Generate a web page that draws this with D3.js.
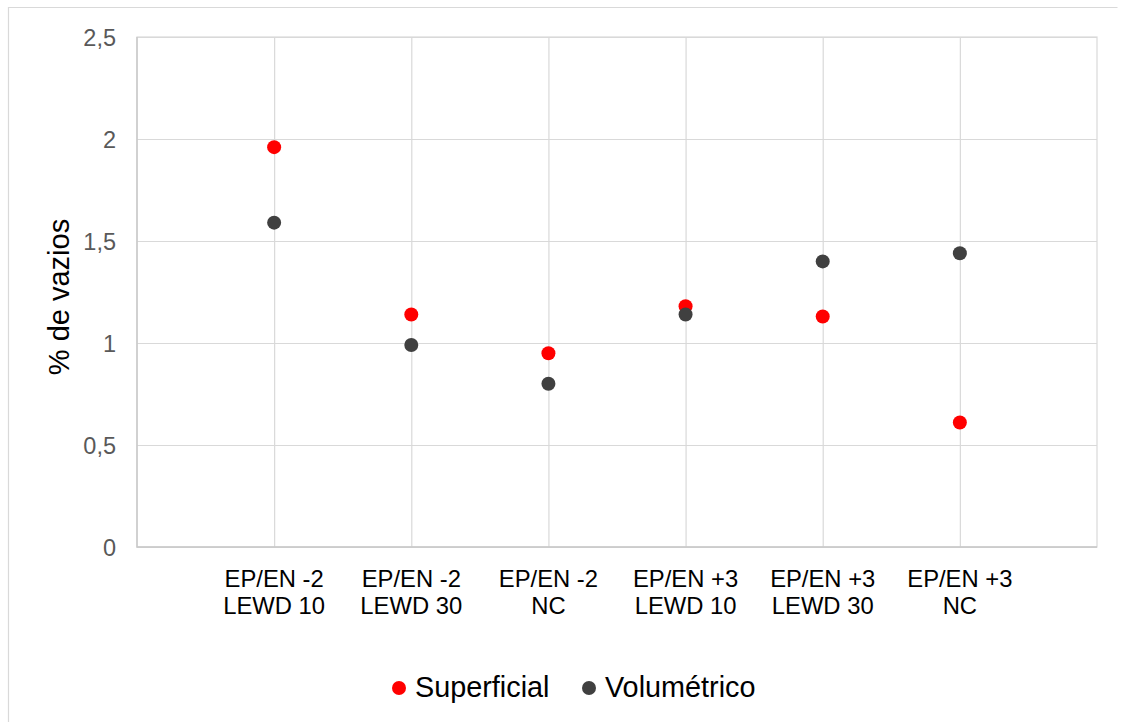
<!DOCTYPE html>
<html>
<head>
<meta charset="utf-8">
<script src="https://cdn.jsdelivr.net/npm/d3@7"></script>
<style>
  html, body { margin: 0; padding: 0; background: #fff; }
  svg { display: block; font-family: "Liberation Sans", Arial, sans-serif; }
</style>
</head>
<body>
<svg id="chart" width="1126" height="722"></svg>
<script>
// Categories (two-line labels) and series values (% de vazios)
const categories = [
  "EP/EN -2|LEWD 10",
  "EP/EN -2|LEWD 30",
  "EP/EN -2|NC",
  "EP/EN +3|LEWD 10",
  "EP/EN +3|LEWD 30",
  "EP/EN +3|NC"
];
const superficial = [1.96, 1.14, 0.95, 1.18, 1.13, 0.61];
const volumetrico = [1.59, 0.99, 0.80, 1.14, 1.40, 1.44];
const yTicks = [0, 0.5, 1, 1.5, 2, 2.5];

const series = [
  { name: "Superficial", values: superficial, color: "#ff0000" },
  { name: "Volumétrico", values: volumetrico, color: "#404040" }
];

const svg = d3.select("#chart");
const plot = { left: 137, right: 1097, top: 37, bottom: 547 };

// outer chart frame
svg.append("path")
  .attr("d", `M8.5,730 V7.5 H1117.5`)
  .attr("fill", "none")
  .attr("stroke", "#d9d9d9")
  .attr("stroke-width", 1.2);

const x = d3.scalePoint()
  .domain(categories)
  .range([plot.left, plot.right])
  .padding(1);

const y = d3.scaleLinear()
  .domain([0, 2.5])
  .range([plot.bottom, plot.top]);

// horizontal gridlines + y labels
const yAxis = d3.axisLeft(y)
  .tickValues(yTicks)
  .tickSize(-(plot.right - plot.left))
  .tickPadding(21)
  .tickFormat(d => String(d).replace(".", ","));

const gy = svg.append("g")
  .attr("transform", `translate(${plot.left},0)`)
  .call(yAxis);
gy.select(".domain").remove();
gy.selectAll(".tick line").attr("stroke", "#d9d9d9").attr("stroke-width", 1.2);
gy.selectAll(".tick text")
  .attr("fill", "#595959")
  .attr("font-size", 23.5)
  .attr("dy", "0.36em");

// vertical gridlines at each category
const xAxis = d3.axisBottom(x)
  .tickSize(-(plot.bottom - plot.top))
  .tickFormat("");
const gx = svg.append("g")
  .attr("transform", `translate(0,${plot.bottom})`)
  .call(xAxis);
gx.select(".domain").remove();
gx.selectAll(".tick line").attr("stroke", "#d9d9d9").attr("stroke-width", 1.2);

// plot frame
svg.append("rect")
  .attr("x", plot.left).attr("y", plot.top)
  .attr("width", plot.right - plot.left)
  .attr("height", plot.bottom - plot.top)
  .attr("fill", "none")
  .attr("stroke", "#d9d9d9")
  .attr("stroke-width", 1.2);
svg.append("path")
  .attr("d", `M${plot.left},${plot.top} V${plot.bottom} H${plot.right}`)
  .attr("fill", "none")
  .attr("stroke", "#c8c8c8")
  .attr("stroke-width", 1.4);

// category labels (two lines)
const labels = svg.append("g")
  .attr("font-size", 23.8)
  .attr("fill", "#000")
  .attr("text-anchor", "middle");
categories.forEach(c => {
  const lines = c.split("|");
  const t = labels.append("text").attr("x", x(c)).attr("y", 587);
  lines.forEach((l, i) => {
    t.append("tspan").attr("x", x(c)).attr("dy", i === 0 ? 0 : 27.3).text(l);
  });
});

// y axis title
svg.append("text")
  .attr("transform", `translate(69,297) rotate(-90)`)
  .attr("text-anchor", "middle")
  .attr("font-size", 29)
  .attr("fill", "#000")
  .text("% de vazios");

// data points
series.forEach(s => {
  svg.append("g")
    .selectAll("circle")
    .data(s.values)
    .join("circle")
    .attr("cx", (d, i) => x(categories[i]))
    .attr("cy", d => y(d))
    .attr("r", 7)
    .attr("fill", s.color);
});

// legend
const legendItems = [
  { s: series[0], mx: 399, tx: 415 },
  { s: series[1], mx: 589, tx: 605 }
];
legendItems.forEach(it => {
  svg.append("circle")
    .attr("cx", it.mx).attr("cy", 688).attr("r", 7)
    .attr("fill", it.s.color);
  svg.append("text")
    .attr("x", it.tx).attr("y", 697)
    .attr("font-size", 28.8)
    .attr("fill", "#000")
    .text(it.s.name);
});
</script>
</body>
</html>
